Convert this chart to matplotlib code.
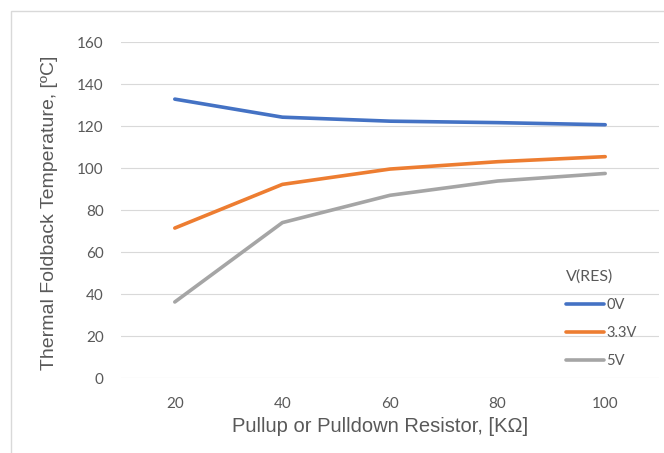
import matplotlib.pyplot as plt
from matplotlib.patches import Rectangle

# данные
resistors = ["20", "40", "60", "80", "100"]
temp_0v = [132.8, 124.2, 122.3, 121.6, 120.6]
temp_33v = [71.4, 92.2, 99.5, 103.0, 105.4]
temp_5v = [36.2, 74.0, 87.0, 93.8, 97.4]
series_labels = ["0V", "3.3V", "5V"]
series_colors = ["#4472C4", "#ED7D31", "#A5A5A5"]
y_ticks = [0, 20, 40, 60, 80, 100, 120, 140, 160]

tick_color = "#595959"
plt.rcParams['font.family'] = ['Lato', 'DejaVu Sans']

fig = plt.figure(figsize=(6.64, 4.53), dpi=100)

# светлая рамка области диаграммы
fig.patches.append(Rectangle((11 / 664, -0.1), 1.2, 1 - 11 / 453 + 0.1,
                             transform=fig.transFigure, fill=False,
                             edgecolor="#d9d9d9", linewidth=1.0))

ax = fig.add_axes([121 / 664, 1 - 378 / 453, (659 - 121) / 664, (378 - 42) / 453])

x = list(range(len(resistors)))
for vals, lab, col in zip([temp_0v, temp_33v, temp_5v], series_labels, series_colors):
    ax.plot(x, vals, color=col, linewidth=2.6, label=lab, solid_capstyle='round')

ax.set_xlim(-0.5, len(resistors) - 0.5)
ax.set_ylim(0, 160)
ax.set_xticks(x)
ax.set_xticklabels(resistors)
ax.set_yticks(y_ticks)
ax.tick_params(axis='both', length=0, labelsize=11, colors=tick_color)
ax.tick_params(axis='y', pad=12.5)
ax.tick_params(axis='x', pad=14)
ax.grid(axis='y', color="#d9d9d9", linewidth=0.8)
ax.set_axisbelow(True)
for s in ax.spines.values():
    s.set_visible(False)

fig.text(50 / 664, 1 - 213 / 453, "Thermal Foldback Temperature, [ºC]",
         rotation=90, ha='center', va='center', fontsize=14,
         color=tick_color, family=['Liberation Sans', 'DejaVu Sans'])
fig.text(380 / 664, 1 - 427 / 453, "Pullup or Pulldown Resistor, [KΩ]",
         ha='center', va='center', fontsize=14.5,
         color=tick_color, family=['Liberation Sans', 'DejaVu Sans'])

leg = ax.legend(loc='upper left', bbox_to_anchor=(553 / 664, 1 - 256 / 453),
                bbox_transform=fig.transFigure, frameon=False,
                title="V(RES)", fontsize=10.5, title_fontsize=11.5,
                handlelength=2.6, handletextpad=0.15, labelspacing=0.98,
                alignment='left')
for t in leg.get_texts():
    t.set_color(tick_color)
leg.get_title().set_color(tick_color)

fig.savefig("out.png", dpi=100)
